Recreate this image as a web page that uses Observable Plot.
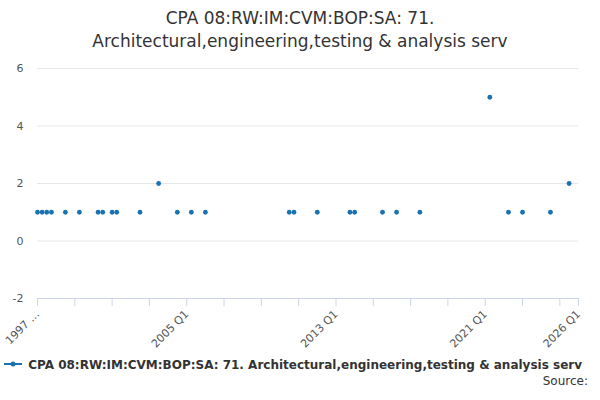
<!DOCTYPE html>
<html><head><meta charset="utf-8">
<script src="https://cdn.jsdelivr.net/npm/d3@7"></script>
<script src="https://cdn.jsdelivr.net/npm/@observablehq/plot@0.6"></script>
<style>
body{margin:0;font-family:"DejaVu Sans",sans-serif;width:600px;height:400px;overflow:hidden;background:#fff}
#t{height:56px;text-align:center;font-size:17px;color:#333;line-height:23px;padding-top:7px;box-sizing:border-box}
#lg{font-size:12px;color:#333;font-weight:bold;white-space:nowrap;margin-top:2px;padding-left:4px}
#src{font-size:12px;color:#333;text-align:right;padding-right:12px;margin-top:2px}
</style></head><body>
<div id="t">CPA 08:RW:IM:CVM:BOP:SA: 71.<br>Architectural,engineering,testing &amp; analysis serv</div>
<div id="c"></div>
<div id="lg"><svg width="20" height="10"><line x1="0" y1="5" x2="18" y2="5" stroke="#1a73b0" stroke-width="2"/><circle cx="9" cy="5" r="2.5" fill="#1a73b0"/></svg> CPA 08:RW:IM:CVM:BOP:SA: 71. Architectural,engineering,testing &amp; analysis serv</div>
<div id="src">Source:</div>
<script>
const quarters=["1997 Q1","1997 Q2","1997 Q3","1997 Q4","1998 Q3","1999 Q2","2000 Q2","2000 Q3","2001 Q1","2001 Q2","2002 Q3","2003 Q3","2004 Q3","2005 Q2","2006 Q1","2010 Q3","2010 Q4","2012 Q1","2013 Q4","2014 Q1","2015 Q3","2016 Q2","2017 Q3","2021 Q2","2022 Q2","2023 Q1","2024 Q3","2025 Q3"];
const values=[1,1,1,1,1,1,1,1,1,1,1,2,1,1,1,1,1,1,1,1,1,1,1,5,1,1,1,2];
const yTicks=[-2,0,2,4,6];
const labelTicks={"1997":"1997 …","2005":"2005 Q1","2013":"2013 Q1","2021":"2021 Q1","2026":"2026 Q1"};
const toDate=q=>{const [y,qq]=q.split(" Q");return new Date(+y,(+qq-1)*3,1);};
const data=quarters.map((q,i)=>({d:toDate(q),v:values[i]}));
const tickYears=d3.range(1997,2027,2).concat([2026]);
const tickDates=tickYears.map(y=>new Date(y,0,1));
const plot=Plot.plot({
 width:600,height:300,marginLeft:37,marginRight:22,marginTop:12,marginBottom:58,
 style:{fontFamily:"DejaVu Sans",fontSize:"11px",color:"#555"},
 x:{type:"time",domain:[new Date(1997,0,1),new Date(2026,0,1)],label:null},
 y:{domain:[-2,6],label:null},
 marks:[
  Plot.gridY(yTicks,{stroke:"#e6e6e6",strokeOpacity:1}),
  Plot.ruleY([-2],{stroke:"#ccd6eb"}),
  Plot.axisY(yTicks,{tickSize:0,tickPadding:14,fontSize:11,label:null,tickFormat:d=>String(d)}),
  Plot.axisX(tickDates,{tickSize:8,stroke:"#ccd6eb",tickRotate:-45,fontSize:11,textAnchor:"end",label:null,
    tickFormat:d=>labelTicks[d.getFullYear()]||""}),
  Plot.dot(data,{x:"d",y:"v",r:2.4,fill:"#1a73b0"})
 ]
});
document.getElementById("c").appendChild(plot);
</script></body></html>
